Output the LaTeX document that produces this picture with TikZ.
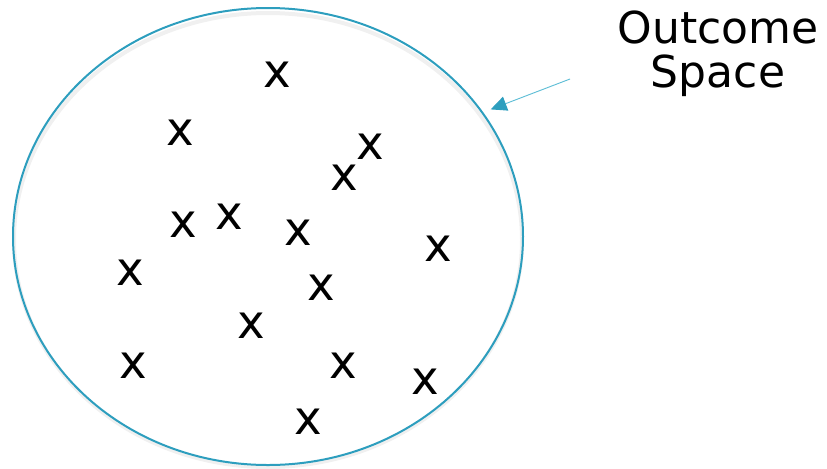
\documentclass[tikz,border=0pt]{standalone}
\usepackage{fontspec}
\setmainfont{DejaVu Sans}
\usetikzlibrary{arrows.meta,shapes.geometric}

\definecolor{rimblue}{RGB}{45,158,190}
\definecolor{ptrblue}{RGB}{95,190,214}

\begin{document}
\begin{tikzpicture}[
    x=0.75pt, y=-0.75pt,
    >=Triangle,
    outcome/.style={font=\fontsize{35}{35}\selectfont, inner sep=0pt},
    rim/.style={ellipse, draw=rimblue, line width=1.5pt, minimum width=382.5pt, minimum height=342.75pt, inner sep=0pt},
    pointer/.style={ptrblue, line width=0.7pt, -{Triangle[length=12pt, width=11pt, color=rimblue]}, shorten >=6pt}
]
    \useasboundingbox (0,0) rectangle (827,468);

    % soft shadow of the outline
    \draw[gray!12, line width=3pt] (268,240) ellipse [x radius=254, y radius=227];
    \node[rim] (space) at (268,236.5) {};

    \foreach \x/\y [count=\i] in {277/75,180/133,370/147,344/178,183/225,229/217,298/233,438/249,
                                 130/273,321/288,251/326,133/366,343/366,425/382,308/422}
        \node[outcome] (o\i) at (\x,\y) {x};

    \node[font=\fontsize{33}{33}\selectfont, align=center, inner sep=0pt, anchor=base] (label) at (718,87)
        {Outcome\\Space};
    \coordinate (tail) at (570,79);
    \draw[pointer] (tail) -- (space.30);
\end{tikzpicture}
\end{document}
